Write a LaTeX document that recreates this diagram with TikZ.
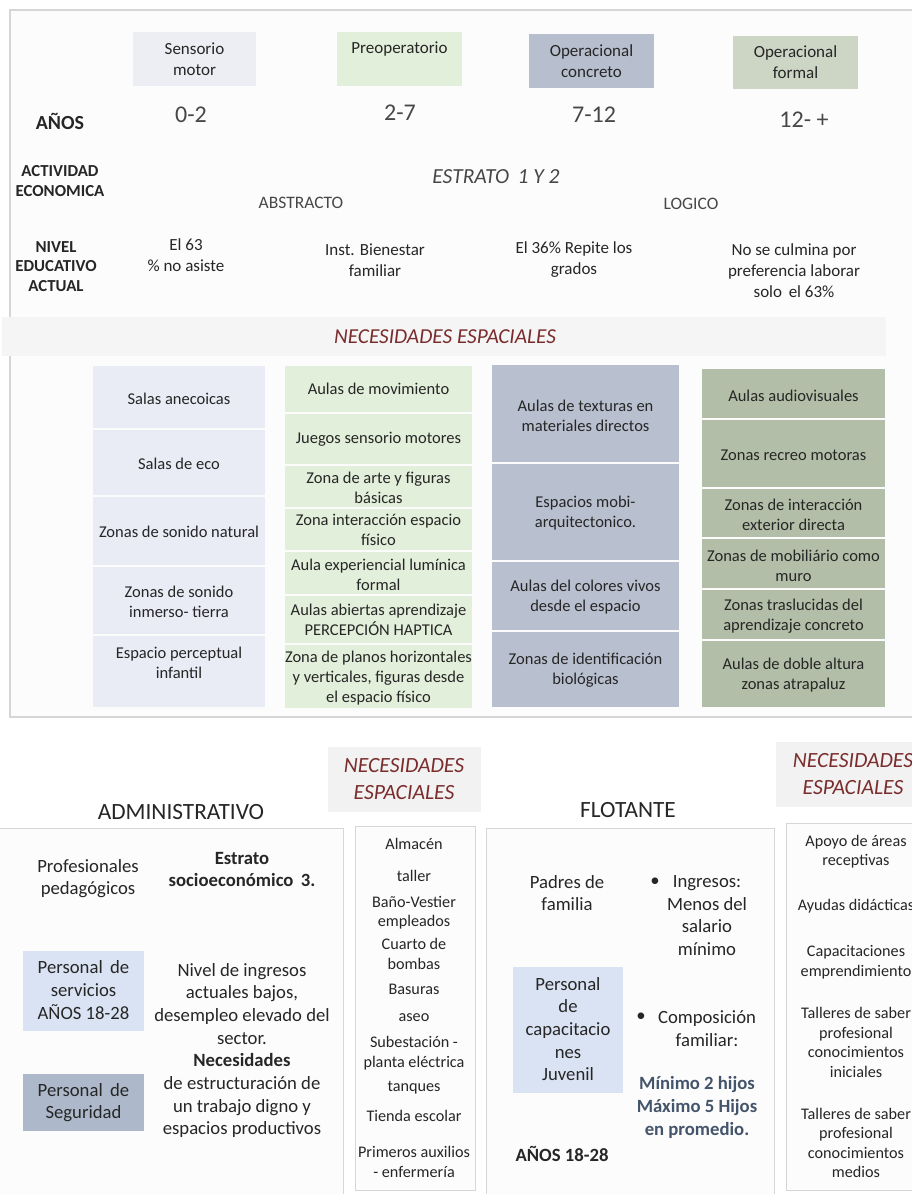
\documentclass[tikz,border=0pt]{standalone}
\usepackage{fontspec}
\setmainfont{Carlito}
\definecolor{frame}{HTML}{D6D6D6}
\definecolor{hA}{HTML}{EDEEF3}
\definecolor{hB}{HTML}{E2EFDA}
\definecolor{hC}{HTML}{B7BECD}
\definecolor{hD}{HTML}{CDD5C5}
\definecolor{cA}{HTML}{E9EBF5}
\definecolor{cB}{HTML}{E2EFDA}
\definecolor{cC}{HTML}{B8BFCF}
\definecolor{cD}{HTML}{B2BEA7}
\definecolor{band}{HTML}{F5F5F5}
\definecolor{band2}{HTML}{F2F2F2}
\definecolor{nred}{HTML}{7B2D2D}
\definecolor{lblue}{HTML}{DAE3F3}
\definecolor{sblue}{HTML}{ADB9CA}
\definecolor{slate}{HTML}{44546A}
\definecolor{ink}{HTML}{262626}
\definecolor{panel}{HTML}{FCFCFC}
\newcommand{\fsz}[2]{\fontsize{#1}{#2}\selectfont}
\tikzset{
  txt/.style={inner sep=0pt, align=center, text=ink},
  cell/.style={txt, font=\fsz{16.5}{20}},
  head/.style={txt, font=\fsz{17}{21}},
  lab/.style={txt, font=\fsz{16.8}{19.5}\bfseries},
  yr/.style={txt, font=\fsz{24}{26}, text=ink!85},
  body/.style={txt, font=\fsz{17}{21}},
  big/.style={txt, font=\fsz{18.7}{22.7}},
  bigb/.style={txt, font=\fsz{18.7}{22.7}\bfseries},
  lst/.style={txt, font=\fsz{16.2}{19.5}},
  nec/.style={txt, font=\fsz{21.7}{27}\itshape, text=nred},
  title/.style={txt, font=\fsz{23.3}{26}},
  panelbox/.style={draw=frame, line width=1pt, fill=panel},
}
\begin{document}
\begin{tikzpicture}[x=1pt,y=-1pt]
\useasboundingbox (0,0) rectangle (912,1194);
\fill[white] (0,0) rectangle (912,1194);
% ---------- top frame ----------
\draw[frame, line width=1.2pt, fill=panel] (10,10) rectangle (940,717);
% header boxes
\fill[hA] (133,32) rectangle (256,86);
\fill[hB] (337,32) rectangle (462,86);
\fill[hC] (529,34) rectangle (654,88);
\fill[hD] (733,36) rectangle (858,89);
\node[head] (h1) at (194.5,59.5) {Sensorio\\motor};
\node[head] (h2) at (399.5,49) {Preoperatorio};
\node[head] (h3) at (591.5,61.5) {Operacional\\concreto};
\node[head] (h4) at (795.5,62) {Operacional\\formal};
% row labels
\node[lab, font=\fsz{20}{22}\bfseries] (anos) at (60,121) {AÑOS};
\node[lab] (act) at (60,181) {ACTIVIDAD\\ECONOMICA};
\node[lab] (niv) at (56,266.5) {NIVEL\\EDUCATIVO\\ACTUAL};
% years
\node[yr] (y1) at (191,115) {0-2};
\node[yr] (y2) at (400,113) {2-7};
\node[yr] (y3) at (594,115) {7-12};
\node[yr] (y4) at (804,120) {12- +};
% activity
\node[txt, font=\fsz{21.5}{24}\itshape, text=ink!85] (estr) at (496,177) {ESTRATO\, 1 Y 2};
\node[body, font=\fsz{17.5}{21}, text=ink!85] (abs) at (301,203) {ABSTRACTO};
\node[body, font=\fsz{17.5}{21}, text=ink!85] (log) at (691,204) {LOGICO};
% nivel educativo
\node[body] (n1) at (186,255.5) {El 63\\\% no asiste};
\node[body] (n2) at (375,260.5) {Inst. Bienestar\\familiar};
\node[body] (n3) at (574,259.5) {El 36\% Repite los\\grados};
\node[body] (n4) at (794,271) {No se culmina por\\preferencia laborar\\solo\, el 63\%};
% necesidades band
\fill[band] (2,317) rectangle (886,356);
\node[nec, font=\fsz{21.3}{24}\itshape] (necA) at (445,337) {NECESIDADES ESPACIALES};
% column A
\fill[cA] (93,366) rectangle (265,428);
\fill[cA] (93,430) rectangle (265,495);
\fill[cA] (93,497) rectangle (265,565);
\fill[cA] (93,567) rectangle (265,634);
\fill[cA] (93,636) rectangle (265,707);
\node[cell] (a1) at (179,399) {Salas anecoicas};
\node[cell] (a2) at (179,464) {Salas de eco};
\node[cell] (a3) at (179,532) {Zonas de sonido natural};
\node[cell] (a4) at (179,602) {Zonas de sonido\\inmerso- tierra};
\node[cell] (a5) at (179,663) {Espacio perceptual\\infantil};
% column B
\fill[cB] (285,366) rectangle (472,412);
\fill[cB] (285,414) rectangle (472,464);
\fill[cB] (285,466) rectangle (472,507);
\fill[cB] (285,509) rectangle (472,550);
\fill[cB] (285,552) rectangle (472,594);
\fill[cB] (285,596) rectangle (472,643);
\fill[cB] (285,645) rectangle (472,708);
\node[cell] (b1) at (378.5,389) {Aulas de movimiento};
\node[cell] (b2) at (378.5,439) {Juegos sensorio motores};
\node[cell] (b3) at (378.5,488) {Zona de arte y figuras\\básicas};
\node[cell] (b4) at (378.5,530) {Zona interacción espacio\\físico};
\node[cell] (b5) at (378.5,575) {Aula experiencial lumínica\\formal};
\node[cell] (b6) at (378.5,620) {Aulas abiertas aprendizaje\\PERCEPCIÓN HAPTICA};
\node[cell] (b7) at (378.5,678) {Zona de planos horizontales\\y verticales, figuras desde\\el espacio físico};
% column C
\fill[cC] (492,365) rectangle (679,462);
\fill[cC] (492,464) rectangle (679,560);
\fill[cC] (492,562) rectangle (679,630);
\fill[cC] (492,632) rectangle (679,707);
\node[cell] (c1) at (585.5,416) {Aulas de texturas en\\materiales directos};
\node[cell] (c2) at (585.5,513) {Espacios mobi-\\arquitectonico.};
\node[cell] (c3) at (585.5,597) {Aulas del colores vivos\\desde el espacio};
\node[cell] (c4) at (585.5,670) {Zonas de identificación\\biológicas};
% column D
\fill[cD] (702,369) rectangle (885,418);
\fill[cD] (702,420) rectangle (885,487);
\fill[cD] (702,489) rectangle (885,537);
\fill[cD] (702,539) rectangle (885,588);
\fill[cD] (702,590) rectangle (885,639);
\fill[cD] (702,641) rectangle (885,707);
\node[cell] (d1) at (793.5,396) {Aulas audiovisuales};
\node[cell] (d2) at (793.5,455) {Zonas recreo motoras};
\node[cell] (d3) at (793.5,515) {Zonas de interacción\\exterior directa};
\node[cell] (d4) at (793.5,565.5) {Zonas de mobiliário como\\muro};
\node[cell] (d5) at (793.5,616) {Zonas traslucidas del\\aprendizaje concreto};
\node[cell] (d6) at (793.5,675.5) {Aulas de doble altura\\zonas atrapaluz};
% ---------- bottom section ----------
\fill[band2] (328,747) rectangle (481,812);
\fill[band2] (776,742) rectangle (930,807);
\node[nec] (necB) at (404,779.5) {NECESIDADES\\ESPACIALES};
\node[nec] (necC) at (853,774) {NECESIDADES\\ESPACIALES};
\node[title] (adm) at (181,812) {ADMINISTRATIVO};
\node[title] (flo) at (628,810) {FLOTANTE};
\draw[panelbox] (-10,828) rectangle (343,1210);
\draw[panelbox] (355,826) rectangle (475,1190);
\draw[panelbox] (486,828) rectangle (774,1210);
\draw[panelbox] (786,823) rectangle (930,1190);
% administrativo
\node[big] (prof) at (88,878.5) {Profesionales\\pedagógicos};
\node[bigb] (estr3) at (242,869.5) {Estrato\\socioeconómico\, 3.};
\fill[lblue] (23,951) rectangle (144,1031);
\node[big] (serv) at (83.5,990) {Personal\, de\\servicios\\AÑOS 18-28};
\fill[sblue] (23,1074) rectangle (144,1131);
\node[big] (seg) at (83.5,1102.5) {Personal\, de\\Seguridad};
\node[big] (ingr) at (242,1050.5) {Nivel de ingresos\\actuales bajos,\\desempleo elevado del\\sector.\\\textbf{Necesidades}\\de estructuración de\\un trabajo digno y\\espacios productivos};
% left list
\node[lst] (l1) at (414,844) {Almacén};
\node[lst] (l2) at (414,876) {taller};
\node[lst] (l3) at (414,912.5) {Baño-Vestier\\empleados};
\node[lst] (l4) at (414,954) {Cuarto de\\bombas};
\node[lst] (l5) at (414,989) {Basuras};
\node[lst] (l6) at (414,1018) {aseo};
\node[lst] (l7) at (414,1053) {Subestación -\\planta eléctrica};
\node[lst] (l8) at (414,1088) {tanques};
\node[lst] (l9) at (414,1116) {Tienda escolar};
\node[lst] (l10) at (414,1162) {Primeros auxilios\\- enfermería};
% flotante
\node[big] (padres) at (567,893) {Padres de\\familia};
\node[big] (bul1) at (655,882) {•};
\node[big] (ingresos) at (707,915.5) {Ingresos:\\Menos del\\salario\\mínimo};
\fill[lblue] (513,967) rectangle (623,1093);
\node[big] (capac) at (568,1029) {Personal\\de\\capacitacio\\nes\\Juvenil};
\node[big] (bul2) at (641,1017) {•};
\node[big] (comp) at (707,1028.5) {Composición\\familiar:};
\node[bigb, text=slate] (hijos) at (697,1107.5) {Mínimo 2 hijos\\Máximo 5 Hijos\\en promedio.};
\node[bigb] (anos2) at (562,1154) {AÑOS 18-28};
% right list
\node[lst] (r1) at (856,851.5) {Apoyo de áreas\\receptivas};
\node[lst] (r2) at (856,906) {Ayudas didácticas};
\node[lst] (r3) at (856,962) {Capacitaciones\\emprendimiento};
\node[lst] (r4) at (856,1042.5) {Talleres de saber\\profesional\\conocimientos\\iniciales};
\node[lst] (r5) at (856,1143) {Talleres de saber\\profesional\\conocimientos\\medios};
\end{tikzpicture}
\end{document}
